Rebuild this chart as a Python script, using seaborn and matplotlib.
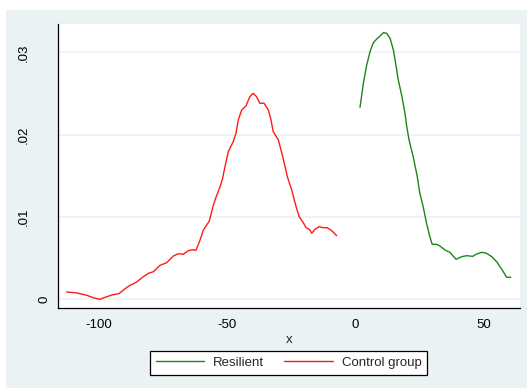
import matplotlib
matplotlib.use("Agg")
import matplotlib.pyplot as plt
from matplotlib.patches import Rectangle
from matplotlib.transforms import blended_transform_factory
import seaborn as sns
import pandas as pd

# ---- data ----
resilient_x = [1.7, 3.0, 4.3, 5.6, 6.9, 8.2, 9.5, 10.8, 12.1, 13.4, 14.7, 16.0, 16.6,
               17.9, 19.2, 19.9, 20.8, 22.4, 24.0, 25.0, 26.3, 27.6, 28.9, 29.8, 31.5,
               32.8, 34.8, 36.7, 39.1, 41.3, 43.2, 45.6, 47.1, 49.1, 51.0, 53.0, 54.9,
               56.9, 58.8, 60.4]
resilient_y = [0.02333, 0.02624, 0.02847, 0.03009, 0.03118, 0.03163, 0.03199, 0.03240,
               0.03232, 0.03171, 0.03029, 0.02786, 0.02665, 0.02482, 0.02260, 0.02097,
               0.01936, 0.01733, 0.01490, 0.01288, 0.01125, 0.00923, 0.00761, 0.00668,
               0.00668, 0.00648, 0.00599, 0.00571, 0.00486, 0.00518, 0.00530, 0.00522,
               0.00550, 0.00571, 0.00559, 0.00518, 0.00457, 0.00365, 0.00267, 0.00267]

control_x = [-112.5, -108.6, -104.7, -102.2, -99.6, -97.6, -95.0, -92.2, -89.8, -87.9,
             -85.3, -82.7, -80.7, -78.8, -76.2, -73.6, -71.0, -69.1, -67.1, -65.2,
             -63.2, -62.2, -60.6, -59.3, -57.0, -55.4, -54.3, -52.8, -51.8, -50.9,
             -49.6, -47.7, -46.6, -45.7, -44.4, -42.7, -41.2, -39.9, -38.6, -37.3,
             -35.7, -34.0, -33.1, -32.1, -30.1, -28.4, -26.6, -24.9, -23.2, -22.0,
             -20.4, -19.4, -17.8, -17.1, -15.8, -14.2, -12.6, -11.1, -9.3, -7.4]
control_y = [0.00089, 0.00077, 0.00049, 0.00019, 0.00000, 0.00024, 0.00052, 0.00068,
             0.00129, 0.00170, 0.00210, 0.00275, 0.00316, 0.00335, 0.00413, 0.00445,
             0.00526, 0.00554, 0.00547, 0.00591, 0.00603, 0.00595, 0.00720, 0.00842,
             0.00950, 0.01146, 0.01247, 0.01368, 0.01470, 0.01611, 0.01793, 0.01915,
             0.02017, 0.02179, 0.02300, 0.02352, 0.02462, 0.02503, 0.02462, 0.02382,
             0.02382, 0.02300, 0.02199, 0.02036, 0.01936, 0.01733, 0.01490, 0.01328,
             0.01125, 0.01004, 0.00931, 0.00875, 0.00842, 0.00802, 0.00851, 0.00882,
             0.00870, 0.00870, 0.00834, 0.00773]

groups = ["Resilient", "Control group"]
colors = ["#1a861a", "#ff1a1a"]
x_ticks = [-100, -50, 0, 50]
y_ticks = [0, 0.01, 0.02, 0.03]
y_tick_labels = ["0", ".01", ".02", ".03"]
x_label = "x"

df = pd.concat([
    pd.DataFrame({"x": resilient_x, "y": resilient_y, "group": groups[0]}),
    pd.DataFrame({"x": control_x, "y": control_y, "group": groups[1]}),
], ignore_index=True)

# ---- style ----
sns.set_style("white")
plt.rcParams["font.family"] = ["Liberation Sans", "DejaVu Sans"]
bg = "#EAF2F3"

W, H = 527, 388
fig = plt.figure(figsize=(W / 100, H / 100), dpi=100, facecolor="white")
fig.add_artist(Rectangle((6 / W, 0), 1, (H - 10) / H, transform=fig.transFigure,
                         facecolor=bg, edgecolor="none", zorder=-10))

left, right, top, bottom = 58.3, 520.0, 24.0, 307.7
ax = fig.add_axes([left / W, 1 - bottom / H, (right - left) / W, (bottom - top) / H])
ax.set_facecolor("white")

sns.lineplot(data=df, x="x", y="y", hue="group", hue_order=groups,
             palette=dict(zip(groups, colors)), estimator=None, sort=False,
             linewidth=1.0, ax=ax, legend=False)

ax.set_xlim(-115.8, 64.0)
ax.set_ylim(-0.00102, 0.03345)

for s in ["top", "right"]:
    ax.spines[s].set_visible(False)
for s in ["left", "bottom"]:
    ax.spines[s].set_color("black")
    ax.spines[s].set_linewidth(0.9)

ax.set_xticks(x_ticks)
ax.set_xticklabels([str(t) for t in x_ticks])
ax.set_yticks(y_ticks)
ax.set_yticklabels([])
ax.tick_params(axis="both", direction="out", length=3.6, width=0.9, color="black",
               labelsize=9.5, labelcolor="black")
ax.tick_params(axis="x", pad=4.5)
ax.grid(axis="y", color=bg, linewidth=1.2)
ax.grid(axis="x", visible=False)
ax.set_axisbelow(True)

ax.set_xlabel(x_label, fontsize=9.5, labelpad=2.5)
ax.set_ylabel("")

# rotated y tick labels (Stata style)
tr = blended_transform_factory(fig.transFigure, ax.transData)
for v, lab in zip(y_ticks, y_tick_labels):
    xpix = 47.0 if lab == "0" else 26.5
    ax.text(xpix / W, v, lab, transform=tr, rotation=90, rotation_mode="anchor",
            ha="center", va="baseline", fontsize=9.5, color="black", clip_on=False)

# legend
from matplotlib.lines import Line2D
handles = [Line2D([], [], color=c, linewidth=1.0) for c in colors]
leg = fig.legend(handles, groups, loc="center", ncol=2,
                 bbox_to_anchor=(288.7 / W, 1 - 362.8 / H),
                 frameon=True, fancybox=False, framealpha=1, edgecolor="black",
                 facecolor="white", fontsize=9.5, handlelength=3.7,
                 handletextpad=0.68, columnspacing=1.5, borderpad=0.43,
                 borderaxespad=0)
leg.get_frame().set_linewidth(0.9)

fig.savefig("out.png", dpi=100, facecolor="white")
